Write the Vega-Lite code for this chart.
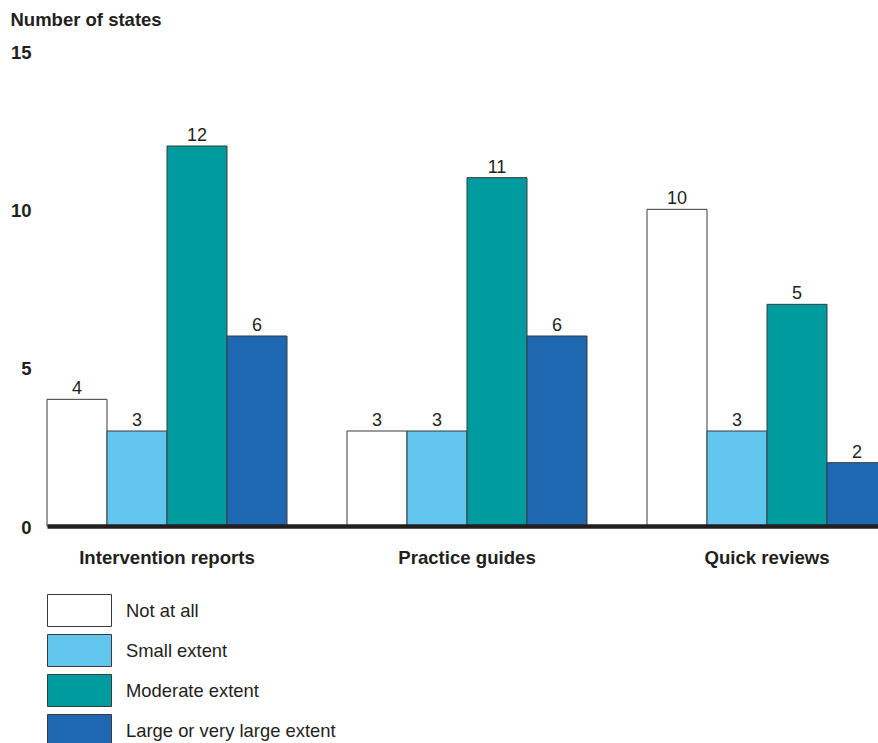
{
  "$schema": "https://vega.github.io/schema/vega-lite/v6.json",
  "width": 840,
  "height": 475,
  "autosize": {"type": "none"},
  "padding": {"left": 47, "top": 51, "right": 0, "bottom": 217},
  "background": "white",
  "config": {
    "view": {"stroke": null},
    "font": "Liberation Sans",
    "text": {"font": "Liberation Sans"}
  },
  "data": {
    "values": [
      {"category": "Intervention reports", "response": "Not at all", "value": 4, "label": "4"},
      {"category": "Intervention reports", "response": "Small extent", "value": 3, "label": "3"},
      {"category": "Intervention reports", "response": "Moderate extent", "value": 12, "label": "12"},
      {"category": "Intervention reports", "response": "Large or very large extent", "value": 6, "label": "6"},
      {"category": "Practice guides", "response": "Not at all", "value": 3, "label": "3"},
      {"category": "Practice guides", "response": "Small extent", "value": 3, "label": "3"},
      {"category": "Practice guides", "response": "Moderate extent", "value": 11, "label": "11"},
      {"category": "Practice guides", "response": "Large or very large extent", "value": 6, "label": "6"},
      {"category": "Quick reviews", "response": "Not at all", "value": 10, "label": "10"},
      {"category": "Quick reviews", "response": "Small extent", "value": 3, "label": "3"},
      {"category": "Quick reviews", "response": "Moderate extent", "value": 7, "label": "5"},
      {"category": "Quick reviews", "response": "Large or very large extent", "value": 2, "label": "2"}
    ]
  },
  "encoding": {
    "x": {
      "field": "category",
      "type": "nominal",
      "sort": ["Intervention reports", "Practice guides", "Quick reviews"],
      "scale": {"paddingInner": 0.2, "paddingOuter": 0},
      "axis": {
        "title": null,
        "labelAngle": 0,
        "labelFont": "Liberation Sans",
        "labelFontSize": 18.6,
        "labelFontWeight": "bold",
        "labelColor": "#231F20",
        "labelPadding": 22,
        "ticks": false,
        "domainColor": "#231F20",
        "domainWidth": 4.5,
        "zindex": 1
      }
    },
    "xOffset": {
      "field": "response",
      "type": "nominal",
      "scale": {"domain": ["Not at all", "Small extent", "Moderate extent", "Large or very large extent"], "paddingInner": 0, "paddingOuter": 0}
    },
    "y": {
      "field": "value",
      "type": "quantitative",
      "scale": {"domain": [0, 15], "nice": false},
      "axis": {
        "values": [0, 5, 10, 15],
        "grid": false,
        "domain": false,
        "ticks": false,
        "labelFont": "Liberation Sans",
        "labelFontSize": 18.5,
        "labelFontWeight": "bold",
        "labelColor": "#231F20",
        "labelPadding": 16,
        "labelOffset": 1,
        "title": "Number of states",
        "titleAngle": 0,
        "titleAlign": "left",
        "titleBaseline": "middle",
        "titleX": -37,
        "titleY": -32,
        "titleFont": "Liberation Sans",
        "titleFontSize": 18.5,
        "titleFontWeight": "bold",
        "titleColor": "#231F20"
      }
    }
  },
  "layer": [
    {
      "mark": {"type": "bar", "stroke": "#3A3A3A", "strokeWidth": 1},
      "encoding": {
        "color": {
          "field": "response",
          "type": "nominal",
          "scale": {
            "domain": ["Not at all", "Small extent", "Moderate extent", "Large or very large extent"],
            "range": ["#FFFFFF", "#63C6EE", "#009B9E", "#1E68B2"]
          },
          "legend": {
            "title": null,
            "orient": "none",
            "legendX": 0,
            "legendY": 543,
            "padding": 0,
            "direction": "vertical",
            "symbolType": "M-1,-1H3V1H-1Z",
            "symbolSize": 1024,
            "symbolStrokeColor": "#3A3A3A",
            "symbolStrokeWidth": 1,
            "symbolOpacity": 1,
            "rowPadding": 3,
            "labelFont": "Liberation Sans",
            "labelFontSize": 18.4,
            "labelColor": "#231F20",
            "labelOffset": 46,
            "labelLimit": 400
          }
        }
      }
    },
    {
      "mark": {"type": "text", "baseline": "alphabetic", "dy": -5, "fontSize": 18, "font": "Liberation Sans", "color": "#231F20"},
      "encoding": {
        "text": {"field": "label", "type": "nominal"}
      }
    }
  ]
}
